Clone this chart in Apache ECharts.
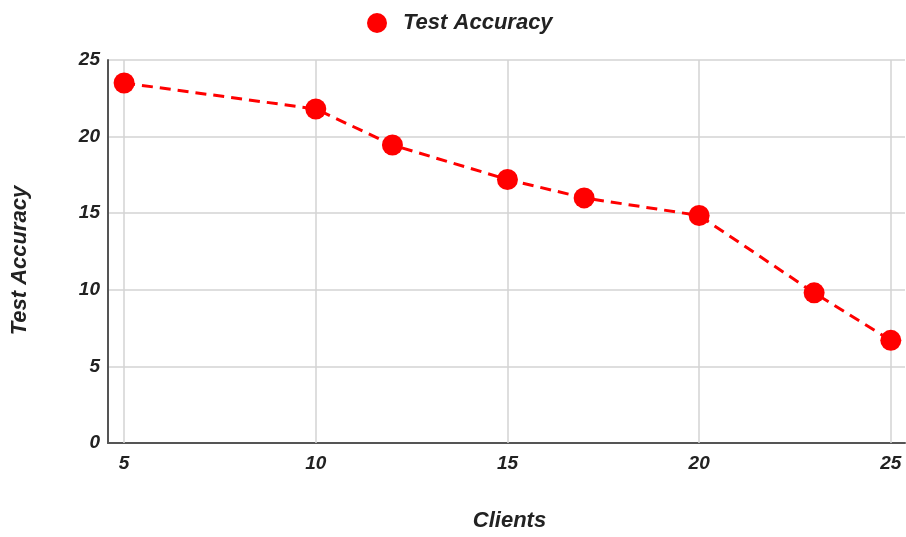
<!DOCTYPE html>
<html><head><meta charset="utf-8">
<script src="https://cdn.jsdelivr.net/npm/echarts@6/dist/echarts.min.js"></script>
<style>html,body{margin:0;padding:0;background:#fff}#c{width:906px;height:537px}</style>
</head><body><div id="c"></div>
<script>
const clients = [5, 10, 12, 15, 17, 20, 23, 25];
const testAccuracy = [23.5, 21.8, 19.45, 17.2, 16.0, 14.85, 9.8, 6.7];
const xTicks = [5, 10, 15, 20, 25];
const yTicks = [0, 5, 10, 15, 20, 25];

const font = { fontFamily: 'Liberation Sans, Arial, sans-serif', fontWeight: 'bold', fontStyle: 'italic', color: '#222' };
const chart = echarts.init(document.getElementById('c'));
chart.setOption({
  animation: false,
  legend: {
    top: 7, left: 362, itemWidth: 20, itemHeight: 20,
    icon: 'circle',
    textStyle: Object.assign({}, font, { fontSize: 22, padding: [0, 0, 0, 11] })
  },
  grid: { left: 108, right: 1, top: 60, bottom: 91, containLabel: false },
  xAxis: {
    type: 'value', min: 4.58, max: 25.37,
    name: 'Clients', nameLocation: 'middle', nameGap: 67,
    nameTextStyle: Object.assign({}, font, { fontSize: 22, padding: [0, 0, 0, 6] }),
    axisLine: { show: true, lineStyle: { color: '#555', width: 2 } },
    axisTick: { show: false, customValues: xTicks },
    axisLabel: Object.assign({}, font, { fontSize: 19, margin: 11, customValues: xTicks }),
    splitLine: { show: false }
  },
  yAxis: {
    type: 'value', min: 0, max: 25, interval: 5,
    name: 'Test Accuracy', nameLocation: 'middle', nameGap: 77,
    nameTextStyle: Object.assign({}, font, { fontSize: 22, padding: [0, 18, 0, 0] }),
    axisLine: { show: true, lineStyle: { color: '#555', width: 2 } },
    axisTick: { show: false },
    axisLabel: Object.assign({}, font, { fontSize: 19, margin: 8 }),
    splitLine: { show: true, lineStyle: { color: '#d3d3d3', width: 1.5 } }
  },
  series: [{
    name: 'Test Accuracy', type: 'line',
    data: clients.map((c, i) => [c, testAccuracy[i]]),
    symbol: 'circle', symbolSize: 21,
    itemStyle: { color: '#ff0000' },
    lineStyle: { color: '#ff0000', width: 3, type: [11, 7] },
    markLine: {
      silent: true, symbol: 'none', label: { show: false },
      lineStyle: { color: '#d3d3d3', width: 1.5, type: 'solid' },
      data: xTicks.map(v => ({ xAxis: v })),
      z: 1
    },
    z: 3
  }]
});
</script></body></html>
